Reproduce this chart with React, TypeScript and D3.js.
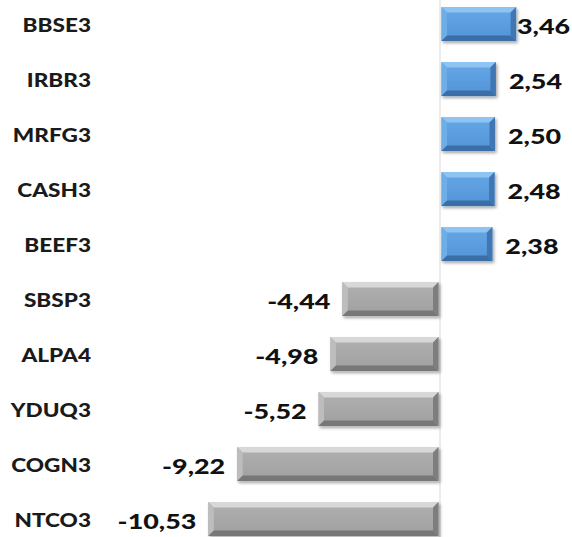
import React from "react";
import * as d3 from "d3";

const categories = ["BBSE3", "IRBR3", "MRFG3", "CASH3", "BEEF3", "SBSP3", "ALPA4", "YDUQ3", "COGN3", "NTCO3"];
const values = [3.46, 2.54, 2.5, 2.48, 2.38, -4.44, -4.98, -5.52, -9.22, -10.53];
const valueLabels = ["3,46", "2,54", "2,50", "2,48", "2,38", "-4,44", "-4,98", "-5,52", "-9,22", "-10,53"];

const W = 572;
const H = 537;

export default function App() {
  const x = d3.scaleLinear().domain([-11, 4]).range([198, 528]);
  const y = d3
    .scaleBand<string>()
    .domain(categories)
    .range([-3.45, 546.55])
    .paddingInner(0.38)
    .paddingOuter(0.19);
  const bw = y.bandwidth();
  const b = 5.5;
  const sx = 1.22;

  const bar = (v: number, i: number) => {
    const pos = v >= 0;
    const x0 = Math.min(x(0), x(v)) + (pos ? 1.5 : 0);
    const x1 = Math.max(x(0), x(v)) - (pos ? 0 : 1.5);
    const y0 = y(categories[i])!;
    const y1 = y0 + bw;
    const pts = (arr: number[][]) => arr.map((p) => p.join(",")).join(" ");
    const c = pos
      ? { top: "#8ec3f2", left: "#6eaee8", bottom: "#3a6ea6", right: "#3f77b3", face: "url(#gBlue)" }
      : { top: "#d8d8d8", left: "#bdbdbd", bottom: "#777777", right: "#7e7e7e", face: "url(#gGray)" };
    return (
      <g key={categories[i]} filter="url(#shadow)">
        <rect x={x0} y={y0} width={x1 - x0} height={bw} fill={c.face} />
        <polygon points={pts([[x0, y0], [x1, y0], [x1 - b, y0 + b], [x0 + b, y0 + b]])} fill={c.top} />
        <polygon points={pts([[x0, y0], [x0 + b, y0 + b], [x0 + b, y1 - b], [x0, y1]])} fill={c.left} />
        <polygon points={pts([[x0, y1], [x0 + b, y1 - b], [x1 - b, y1 - b], [x1, y1]])} fill={c.bottom} />
        <polygon points={pts([[x1, y0], [x1, y1], [x1 - b, y1 - b], [x1 - b, y0 + b]])} fill={c.right} />
      </g>
    );
  };

  return (
    <svg width={W} height={H} style={{ position: "absolute", left: 0, top: 0, background: "#fff" }}>
      <defs>
        <linearGradient id="gBlue" x1="0" y1="0" x2="0" y2="1">
          <stop offset="0" stopColor="#65a7e6" />
          <stop offset="1" stopColor="#5294d6" />
        </linearGradient>
        <linearGradient id="gGray" x1="0" y1="0" x2="0" y2="1">
          <stop offset="0" stopColor="#b0b0b0" />
          <stop offset="1" stopColor="#a0a0a0" />
        </linearGradient>
        <filter id="shadow" x="-10%" y="-20%" width="130%" height="160%">
          <feDropShadow dx="1.5" dy="2" stdDeviation="1.5" floodColor="#000" floodOpacity="0.35" />
        </filter>
      </defs>
      <line x1={x(0)} x2={x(0)} y1={0} y2={H} stroke="#d9d9d9" strokeWidth={1} />
      {values.map((v, i) => bar(v, i))}
      {categories.map((c, i) => {
        const cy = y(c)! + bw / 2 + 1;
        return (
          <text
            key={"c" + c}
            transform={`translate(91,${cy}) scale(${sx},1)`}
            textAnchor="end"
            dominantBaseline="central"
            fontFamily="Lato"
            fontWeight="900"
            fontSize={18.5}
            fill="#1a1a1a"
          >
            {c}
          </text>
        );
      })}
      {values.map((v, i) => {
        const cy = y(categories[i])! + bw / 2 + 2;
        const pos = v >= 0;
        const tx = pos ? Math.min(x(v) + 13, 517) : x(v) - 12;
        return (
          <text
            key={"v" + i}
            transform={`translate(${tx},${cy}) scale(1.25,1)`}
            textAnchor={pos ? "start" : "end"}
            dominantBaseline="central"
            fontFamily="Lato"
            fontWeight="900"
            fontSize={21.5}
            fill="#111"
          >
            {valueLabels[i]}
          </text>
        );
      })}
    </svg>
  );
}
